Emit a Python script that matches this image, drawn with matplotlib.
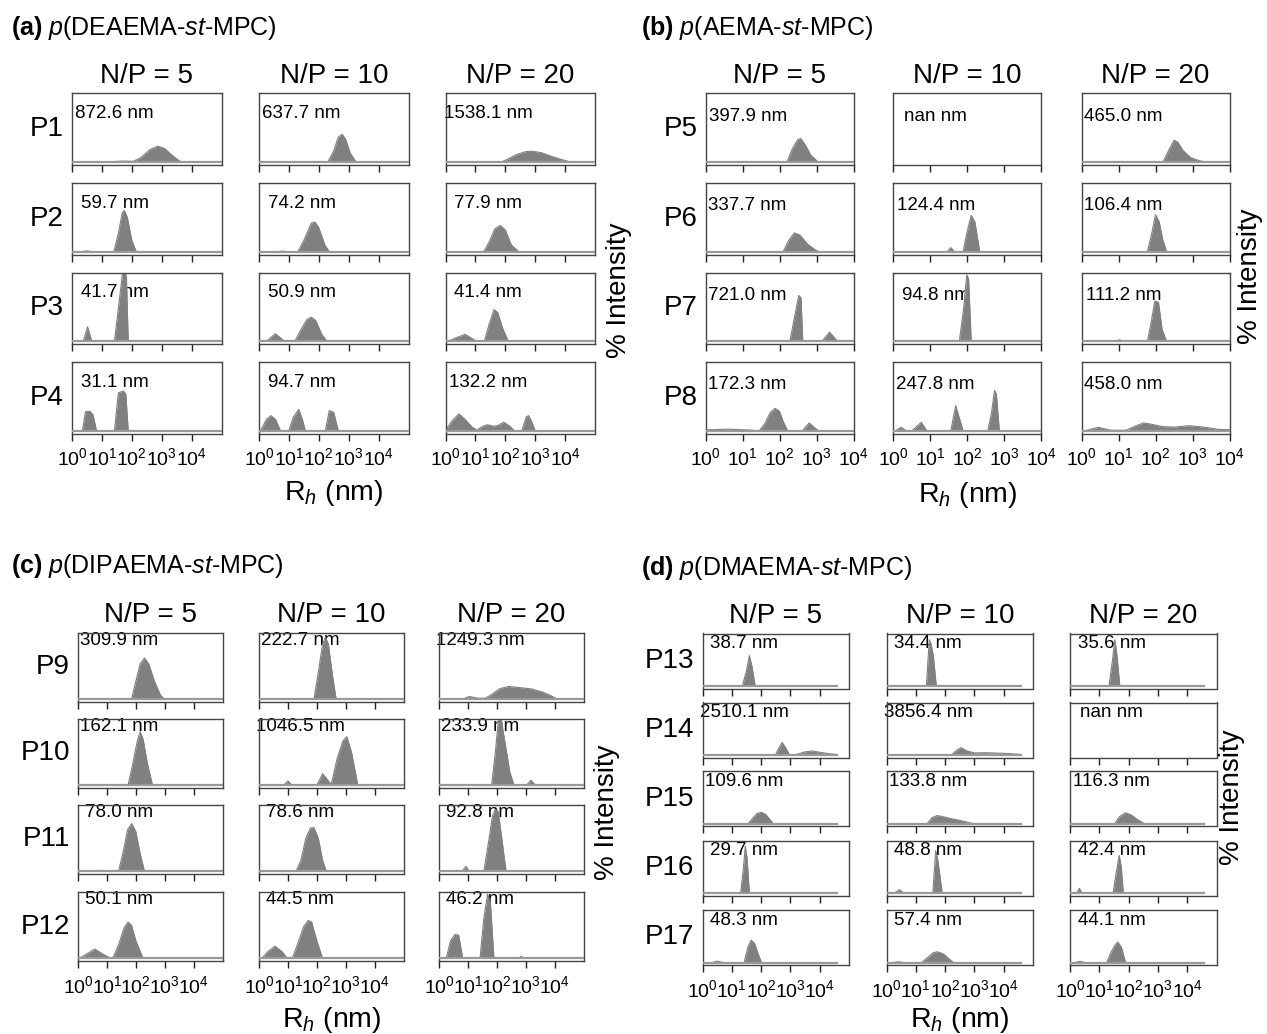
import numpy as np
import matplotlib
matplotlib.use("Agg")
import matplotlib.pyplot as plt
from matplotlib.ticker import FixedLocator, NullLocator, LogFormatterSciNotation

plt.rcParams['font.family'] = ['Liberation Sans', 'DejaVu Sans']
plt.rcParams['mathtext.fontset'] = 'custom'
plt.rcParams['mathtext.rm'] = 'Liberation Sans'
plt.rcParams['mathtext.it'] = 'Liberation Sans:italic'
plt.rcParams['mathtext.bf'] = 'Liberation Sans:bold'

np_ratios = ["N/P = 5", "N/P = 10", "N/P = 20"]

# z-average radius (nm) for N/P = 5, 10, 20
size_P1 = [872.6, 637.7, 1538.1]
size_P2 = [59.7, 74.2, 77.9]
size_P3 = [41.7, 50.9, 41.4]
size_P4 = [31.1, 94.7, 132.2]
size_P5 = [397.9, np.nan, 465.0]
size_P6 = [337.7, 124.4, 106.4]
size_P7 = [721.0, 94.8, 111.2]
size_P8 = [172.3, 247.8, 458.0]
size_P9 = [309.9, 222.7, 1249.3]
size_P10 = [162.1, 1046.5, 233.9]
size_P11 = [78.0, 78.6, 92.8]
size_P12 = [50.1, 44.5, 46.2]
size_P13 = [38.7, 34.4, 35.6]
size_P14 = [2510.1, 3856.4, np.nan]
size_P15 = [109.6, 133.8, 116.3]
size_P16 = [29.7, 48.8, 42.4]
size_P17 = [48.3, 57.4, 44.1]

# intensity distributions, (log10 Rh, % intensity)
dist_P1 = [
    [(1.3, 0), (1.5, 0.4), (1.8, 0.5), (2.05, 0.4), (2.3, 2.0), (2.6, 5.5), (2.87, 7.0), (3.1, 6.0), (3.35, 3.0), (3.6, 0.5), (3.7, 0)],
    [(2.3, 0), (2.5, 5.0), (2.65, 11.0), (2.78, 12.2), (2.9, 10.0), (3.05, 4.0), (3.25, 0)],
    [(1.85, 0), (2.1, 1.5), (2.4, 3.5), (2.7, 4.7), (2.9, 4.8), (3.2, 4.2), (3.5, 2.8), (3.8, 1.5), (4.1, 0.4), (4.3, 0)],
]
dist_P2 = [
    [(0.3, 0), (0.5, 0.4), (0.7, 0), (1.4, 0), (1.55, 8), (1.68, 17), (1.75, 18), (1.85, 15), (2.0, 5), (2.15, 0)],
    [(0.6, 0), (0.8, 0.3), (0.95, 0), (1.3, 0), (1.5, 5), (1.75, 12.5), (1.87, 13), (2.0, 10.5), (2.2, 3), (2.35, 0)],
    [(1.28, 0), (1.45, 4), (1.65, 10), (1.83, 11.5), (2.0, 9.5), (2.2, 3), (2.45, 0)],
]
dist_P3 = [
    [(0.38, 0), (0.52, 6.3), (0.66, 0), (1.42, 0), (1.72, 33), (1.82, 28), (1.88, 0)],
    [(0.25, 0), (0.55, 3.3), (0.85, 0), (1.2, 0), (1.4, 5), (1.6, 9.5), (1.75, 10.5), (1.9, 9), (2.1, 3), (2.27, 0)],
    [(0.1, 0), (0.35, 1.5), (0.65, 3), (0.85, 1.5), (1.0, 0.3), (1.3, 0), (1.45, 7), (1.62, 13.8), (1.75, 12.5), (1.9, 6), (2.1, 0)],
]
dist_P4 = [
    [(0.35, 0), (0.45, 8.3), (0.6, 8.5), (0.7, 7), (0.82, 0), (1.42, 0), (1.55, 16.5), (1.72, 17.4), (1.8, 16), (1.88, 0)],
    [(0.05, 0), (0.25, 5), (0.4, 6.6), (0.55, 5), (0.72, 0), (1.0, 0), (1.15, 6), (1.33, 9.3), (1.45, 5), (1.55, 0),
     (2.22, 0), (2.35, 8.8), (2.5, 8), (2.65, 0)],
    [(0.0, 0), (0.2, 4), (0.45, 7.4), (0.65, 5), (0.9, 1.5), (1.05, 0.3), (1.25, 2), (1.4, 2.6), (1.6, 2), (1.75, 2.3),
     (1.95, 3.7), (2.15, 2), (2.3, 0), (2.55, 0), (2.7, 6), (2.78, 6.6), (2.88, 4), (3.0, 0)],
]
dist_P5 = [
    [(2.2, 0), (2.35, 6), (2.5, 10), (2.58, 10.3), (2.7, 7.5), (2.85, 3), (3.05, 0)],
    [],
    [(2.2, 0), (2.35, 5), (2.5, 9.6), (2.6, 8.8), (2.75, 5), (2.95, 2), (3.2, 0.6), (3.4, 0)],
]
dist_P6 = [
    [(2.1, 0), (2.25, 5), (2.4, 8.2), (2.55, 7.3), (2.75, 3.5), (2.95, 1), (3.07, 0)],
    [(1.45, 0), (1.55, 1.8), (1.65, 0), (1.88, 0), (1.98, 8), (2.1, 15.9), (2.2, 13), (2.33, 0)],
    [(1.78, 0), (1.9, 8), (2.0, 16.2), (2.1, 13), (2.2, 5), (2.3, 0)],
]
dist_P7 = [
    [(2.28, 0), (2.4, 10), (2.52, 20), (2.58, 19), (2.63, 0), (3.15, 0), (3.35, 4), (3.57, 0)],
    [(1.78, 0), (1.9, 15), (1.98, 29), (2.03, 27), (2.1, 0)],
    [(0.95, 0), (1.03, 0.7), (1.1, 0), (1.78, 0), (1.88, 8), (1.98, 17.5), (2.08, 17), (2.18, 5), (2.3, 0)],
]
dist_P8 = [
    [(-0.5, 0.2), (0.3, 0.5), (0.6, 0.7), (0.9, 0.5), (1.2, 0.3), (1.45, 0), (1.6, 3), (1.75, 8), (1.88, 9.8), (2.0, 8.5),
     (2.1, 4), (2.22, 0), (2.62, 0), (2.8, 3.4), (3.05, 0)],
    [(0.05, 0), (0.2, 1.5), (0.35, 0), (0.5, 0), (0.75, 3.7), (0.9, 0), (1.55, 0), (1.68, 11), (1.88, 0), (2.55, 0),
     (2.65, 8), (2.73, 17.6), (2.78, 16), (2.86, 0)],
    [(0.1, 0), (0.45, 1.5), (0.8, 0.2), (1.2, 0.2), (1.45, 2), (1.68, 3.4), (1.9, 2.8), (2.2, 1.8), (2.5, 1.6), (2.9, 2.2),
     (3.3, 1.6), (3.7, 0.6), (4.5, 0.2)],
]
dist_P9 = [
    [(1.85, 0), (2.0, 8), (2.15, 16), (2.3, 18.7), (2.45, 16), (2.65, 8), (2.85, 2), (3.0, 0), (3.4, 0), (3.5, 0.3), (3.6, 0)],
    [(1.9, 0), (2.05, 12), (2.2, 25), (2.3, 28), (2.4, 25), (2.55, 10), (2.67, 0)],
    [(0.8, 0), (1.05, 1.3), (1.35, 0.5), (1.6, 0.5), (1.8, 2), (2.1, 4.8), (2.4, 5.8), (2.8, 5.3), (3.2, 4.7), (3.6, 3.2),
     (3.9, 1.5), (4.1, 0)],
]
dist_P10 = [
    [(1.73, 0), (1.9, 10), (2.05, 20), (2.15, 24.2), (2.25, 21), (2.4, 10), (2.58, 0)],
    [(0.85, 0), (1.0, 2), (1.15, 0), (2.0, 0), (2.2, 5.3), (2.4, 2), (2.5, 0.5), (2.7, 12), (2.9, 20), (3.04, 22), (3.2, 15), (3.42, 0)],
    [(1.82, 0), (1.95, 15), (2.05, 29), (2.15, 30), (2.3, 18), (2.45, 6), (2.6, 0), (3.02, 0), (3.18, 2.3), (3.35, 0)],
]
dist_P11 = [
    [(0.7, 0), (0.8, 0.5), (0.9, 0), (1.4, 0), (1.55, 8), (1.72, 19), (1.86, 21.6), (2.0, 18), (2.15, 8), (2.3, 0)],
    [(1.28, 0), (1.45, 5), (1.62, 15), (1.78, 19.6), (1.9, 19.8), (2.05, 15), (2.2, 5), (2.33, 0)],
    [(0.8, 0), (0.93, 2.3), (1.05, 0), (1.55, 0), (1.7, 12), (1.85, 25), (1.95, 28), (2.05, 27), (2.2, 12), (2.32, 0)],
]
dist_P12 = [
    [(0.05, 0), (0.3, 2), (0.58, 4.2), (0.85, 2), (1.1, 0.3), (1.2, 0), (1.4, 6), (1.6, 14), (1.73, 16.4), (1.85, 15), (2.0, 8), (2.25, 0)],
    [(0.1, 0), (0.3, 3), (0.55, 5.5), (0.8, 3), (0.98, 0), (1.15, 0), (1.35, 7), (1.55, 14.5), (1.7, 17.1), (1.82, 16.5), (2.0, 8), (2.2, 0)],
    [(0.25, 0), (0.4, 8), (0.55, 10.8), (0.68, 10.5), (0.82, 0), (1.42, 0), (1.55, 18), (1.68, 29), (1.78, 25), (1.9, 0),
     (2.75, 0), (2.85, 0.9), (2.95, 0)],
]
dist_P13 = [
    [(1.36, 0), (1.5, 9), (1.6, 17.5), (1.68, 12), (1.8, 0)],
    [(1.36, 0), (1.46, 26.5), (1.52, 24), (1.6, 17), (1.7, 0)],
    [(1.33, 0), (1.45, 15), (1.53, 26.5), (1.6, 18), (1.7, 0)],
]
dist_P14 = [
    [(2.48, 0), (2.6, 4), (2.72, 7.3), (2.85, 4), (2.97, 0.3), (3.2, 0.5), (3.5, 2), (3.75, 2.5), (4.1, 1.5), (4.4, 0.8), (4.58, 0.5)],
    [(2.2, 0), (2.4, 3), (2.54, 4.4), (2.75, 2.5), (3.0, 1.4), (3.4, 1.5), (3.8, 1.3), (4.2, 1.0), (4.58, 0.5)],
    [],
]
dist_P15 = [
    [(1.55, 0), (1.7, 3), (1.85, 5.8), (2.0, 6.6), (2.15, 5.5), (2.3, 2.5), (2.42, 0)],
    [(1.38, 0), (1.55, 3.5), (1.73, 4.7), (1.9, 4.2), (2.2, 3), (2.5, 2), (2.8, 0.8), (3.0, 0)],
    [(1.52, 0), (1.68, 4), (1.9, 6.3), (2.1, 5), (2.3, 2.5), (2.55, 0)],
]
dist_P16 = [
    [(1.3, 0), (1.4, 15), (1.46, 26.7), (1.52, 20), (1.6, 0)],
    [(0.25, 0), (0.45, 2.1), (0.6, 0), (1.58, 0), (1.68, 24.3), (1.76, 18), (1.9, 0)],
    [(0.22, 0), (0.32, 2.9), (0.42, 0), (1.47, 0), (1.58, 12), (1.68, 21.5), (1.75, 15), (1.82, 0)],
]
dist_P17 = [
    [(0.3, 0), (0.5, 1.0), (0.75, 0), (1.42, 0), (1.55, 9), (1.66, 12.9), (1.78, 11), (1.9, 5), (2.02, 0)],
    [(0.1, 0), (0.4, 0.6), (0.7, 0), (1.18, 0), (1.4, 3), (1.6, 5.8), (1.75, 6.3), (1.95, 5), (2.15, 2), (2.3, 0)],
    [(0.1, 0), (0.35, 0.9), (0.55, 0), (1.25, 0), (1.4, 6), (1.55, 10.5), (1.63, 11.8), (1.75, 9), (1.9, 0)],
]

W, H = 1267, 1034
fig = plt.figure(figsize=(W / 100, H / 100), dpi=100)
FILL = '#808080'
BASE = '#999999'
SPINE = '#444444'

# layout in pixels
panels = [
    dict(title=r"$\mathbf{(a)}$ $p$(DEAEMA-$st$-MPC)", title_xy=(11, 28),
         samples=[("P1", size_P1, dist_P1), ("P2", size_P2, dist_P2), ("P3", size_P3, dist_P3), ("P4", size_P4, dist_P4)],
         lefts=[72, 259, 445.5], width=149.5, tops=[93.5, 183, 272.5, 362], height=71.5,
         xmax=1e5, data_hi=6, text_y=0.72, ylab_xy=(619, 290), xlab_y=493),
    dict(title=r"$\mathbf{(b)}$ $p$(AEMA-$st$-MPC)", title_xy=(641, 28),
         samples=[("P5", size_P5, dist_P5), ("P6", size_P6, dist_P6), ("P7", size_P7, dist_P7), ("P8", size_P8, dist_P8)],
         lefts=[705.5, 893.5, 1081.5], width=148, tops=[93.5, 183, 272.5, 362], height=71.5,
         xmax=1e4, data_hi=5, text_y=0.68, ylab_xy=(1250, 276), xlab_y=495),
    dict(title=r"$\mathbf{(c)}$ $p$(DIPAEMA-$st$-MPC)", title_xy=(11, 566),
         samples=[("P9", size_P9, dist_P9), ("P10", size_P10, dist_P10), ("P11", size_P11, dist_P11), ("P12", size_P12, dist_P12)],
         lefts=[78, 259, 439], width=144.5, tops=[633, 719, 805, 892], height=69,
         xmax=1e5, data_hi=6, text_y=0.89, ylab_xy=(607, 812), xlab_y=1020),
    dict(title=r"$\mathbf{(d)}$ $p$(DMAEMA-$st$-MPC)", title_xy=(641, 568),
         samples=[("P13", size_P13, dist_P13), ("P14", size_P14, dist_P14), ("P15", size_P15, dist_P15),
                  ("P16", size_P16, dist_P16), ("P17", size_P17, dist_P17)],
         lefts=[702.5, 886.5, 1070], width=146.5, tops=[633.5, 702.5, 771, 840.5, 910], height=55,
         xmax=1e5, data_hi=4.58, text_y=0.81, ylab_xy=(1232, 797), xlab_y=1020),
]


def fx(px):
    return px / W


def fy(py):
    return 1 - py / H


for p in panels:
    fig.text(fx(p['title_xy'][0]), fy(p['title_xy'][1]), p['title'], fontsize=18, ha='left', va='center')
    for j, lab in enumerate(np_ratios):
        cx = p['lefts'][j] + p['width'] / 2
        fig.text(fx(cx), fy(p['tops'][0] - 17.5), lab, fontsize=20, ha='center', va='center')

    nrow = len(p['samples'])
    for i, (name, sizes, dists) in enumerate(p['samples']):
        top = p['tops'][i]
        fig.text(fx(p['lefts'][0] - 8), fy(top + p['height'] / 2), name, fontsize=20, ha='right', va='center')
        for j in range(3):
            ax = fig.add_axes([fx(p['lefts'][j]), fy(top + p['height']), p['width'] / W, p['height'] / H])
            pts = dists[j]
            if pts:
                lg = np.array([-1.0] + [q[0] for q in pts] + [p['data_hi']])
                inten = np.array([0.0] + [q[1] for q in pts] + [0.0])
                rh = 10 ** lg
                ax.fill_between(rh, inten, 0, color=FILL, lw=0, zorder=2)
                ax.plot(rh, inten, color=FILL, lw=0.8, zorder=2)
                ax.plot([rh[0], rh[-1]], [0, 0], color=BASE, lw=1.6, zorder=3)
            ax.text(0.285, p['text_y'], f"{sizes[j]:.1f} nm", transform=ax.transAxes,
                    ha='center', va='center', fontsize=13.5, zorder=1)
            ax.set_xscale('log')
            ax.set_xlim(1, p['xmax'])
            ax.set_ylim(-1.2, 30)
            ax.xaxis.set_major_locator(FixedLocator([1, 10, 100, 1000, 10000]))
            ax.xaxis.set_major_formatter(LogFormatterSciNotation())
            ax.xaxis.set_minor_locator(NullLocator())
            ax.set_yticks([])
            ax.tick_params(axis='x', which='major', direction='out', length=5, width=1,
                           labelsize=14, pad=5, color='#222222',
                           labelbottom=(i == nrow - 1))
            for s in ax.spines.values():
                s.set_color(SPINE)
                s.set_linewidth(1.0)

    xc = p['lefts'][1] + p['width'] / 2
    fig.text(fx(xc), fy(p['xlab_y']), r"R$_h$ (nm)", fontsize=20.5, ha='center', va='center')
    fig.text(fx(p['ylab_xy'][0]), fy(p['ylab_xy'][1]), "% Intensity", fontsize=20,
             rotation=90, ha='center', va='center')

fig.savefig("out.png", dpi=100)
